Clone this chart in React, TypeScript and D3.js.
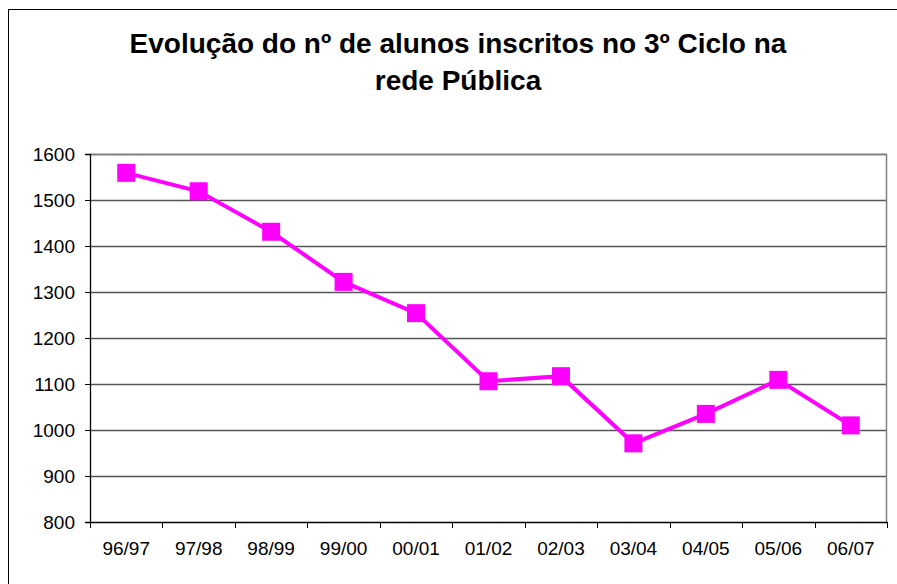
import * as d3 from "d3";
import React, { useEffect, useRef } from "react";

const categories = ["96/97", "97/98", "98/99", "99/00", "00/01", "01/02", "02/03", "03/04", "04/05", "05/06", "06/07"];
const alunos = [1559, 1519, 1431, 1322, 1254, 1106, 1117, 971, 1035, 1109, 1010];
const yTicks = [800, 900, 1000, 1100, 1200, 1300, 1400, 1500, 1600];
const titleLines = ["Evolução do nº de alunos inscritos no 3º Ciclo na", "rede Pública"];

export default function App() {
  const svgRef = useRef<SVGSVGElement>(null);
  const boxWidth = 897;
  const boxHeight = 584;

  useEffect(() => {
    const svg = d3.select(svgRef.current).attr("width", boxWidth).attr("height", boxHeight);
    svg.selectAll("*").remove();

    const margin = { top: 154, right: 10, bottom: 62, left: 90 };
    const width = boxWidth - margin.left - margin.right;
    const height = boxHeight - margin.top - margin.bottom;
    const font = "Liberation Sans, Arial, sans-serif";

    // outer chart frame
    svg.append("rect")
      .attr("x", 8.5).attr("y", 9.5)
      .attr("width", boxWidth).attr("height", boxHeight)
      .attr("fill", "#fff").attr("stroke", "#000").attr("stroke-width", 1);

    svg.append("g").selectAll("text")
      .data(titleLines)
      .enter()
      .append("text")
      .attr("x", 458)
      .attr("y", (d, i) => 53 + i * 37)
      .attr("text-anchor", "middle")
      .attr("font-family", font)
      .attr("font-weight", "bold")
      .attr("font-size", "28px")
      .attr("fill", "#000")
      .text((d) => d);

    const x = d3.scaleBand().domain(categories).range([0, width]);
    const y = d3.scaleLinear().domain([800, 1600]).range([height, 0]);

    const g = svg.append("g").attr("transform", `translate(${margin.left},${margin.top})`);

    // gridlines
    g.selectAll(".grid")
      .data(yTicks.slice(1))
      .enter()
      .append("line")
      .attr("class", "grid")
      .attr("x1", 0).attr("x2", width)
      .attr("y1", (d) => Math.round(y(d)) + 0.5)
      .attr("y2", (d) => Math.round(y(d)) + 0.5)
      .attr("stroke", "#555")
      .attr("stroke-width", 1.3);

    // plot frame (top / right grey)
    g.append("path")
      .attr("d", `M0,0.5H${width - 0.5}V${height}`)
      .attr("fill", "none")
      .attr("stroke", "#808080")
      .attr("stroke-width", 1.5);

    const yAxis = g.append("g").call(
      d3.axisLeft(y).tickValues(yTicks).tickFormat(d3.format("d")).tickSize(5).tickPadding(10)
    );
    yAxis.select(".domain").attr("stroke", "#000").attr("stroke-width", 1.3);
    yAxis.selectAll(".tick line").attr("stroke", "#000");
    yAxis.selectAll("text")
      .attr("font-family", font)
      .attr("font-size", "19px")
      .attr("fill", "#000");

    const xAxisGroup = g.append("g").attr("transform", `translate(0,${height})`)
      .call(d3.axisBottom(x).tickSize(0).tickSizeOuter(0).tickPadding(20));
    xAxisGroup.select(".domain").attr("stroke", "#000").attr("stroke-width", 1.3);
    xAxisGroup.selectAll("text")
      .attr("font-family", font)
      .attr("font-size", "19px")
      .attr("fill", "#000");

    // category boundary ticks
    g.append("g").selectAll("line")
      .data(d3.range(categories.length + 1))
      .enter()
      .append("line")
      .attr("x1", (i) => Math.round(i * x.step()) + 0.5)
      .attr("x2", (i) => Math.round(i * x.step()) + 0.5)
      .attr("y1", height)
      .attr("y2", height + 6)
      .attr("stroke", "#000");

    const line = d3.line<number>()
      .x((d, i) => (x(categories[i]) as number) + x.bandwidth() / 2)
      .y((d) => y(d));

    g.append("path")
      .datum(alunos)
      .attr("fill", "none")
      .attr("stroke", "#FF00FF")
      .attr("stroke-width", 4)
      .attr("d", line);

    const ms = 18;
    g.selectAll(".marker")
      .data(alunos)
      .enter()
      .append("rect")
      .attr("class", "marker")
      .attr("x", (d, i) => (x(categories[i]) as number) + x.bandwidth() / 2 - ms / 2)
      .attr("y", (d) => y(d) - ms / 2)
      .attr("width", ms)
      .attr("height", ms)
      .attr("fill", "#FF00FF");
  }, []);

  return (
    <div style={{ position: "absolute", left: 0, top: 0 }}>
      <svg ref={svgRef}></svg>
    </div>
  );
}
